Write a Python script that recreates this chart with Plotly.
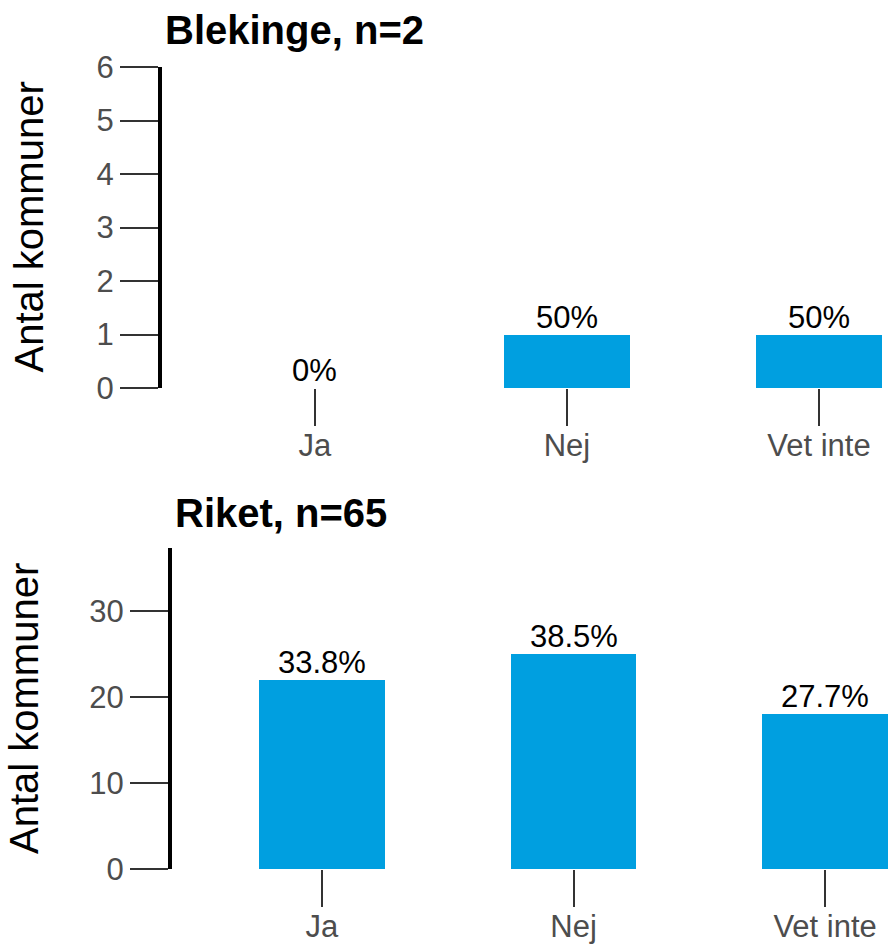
import plotly.graph_objects as go

categories = ["Ja", "Nej", "Vet inte"]
blekinge_counts = [0, 1, 1]
blekinge_labels = ["0%", "50%", "50%"]
riket_counts = [22, 25, 18]
riket_labels = ["33.8%", "38.5%", "27.7%"]
titles = ["Blekinge, n=2", "Riket, n=65"]
y_title = "Antal kommuner"
blekinge_yticks = [0, 1, 2, 3, 4, 5, 6]
riket_yticks = [0, 10, 20, 30]

W, H = 889, 944
BAR = "#009FE0"
FONT = "Liberation Sans, Arial, sans-serif"
TICKCOL = "#4D4D4D"

fig = go.Figure()

def fx(x):
    return x / W

def fy(y):
    return 1 - y / H

panels = [
    dict(counts=blekinge_counts, labels=blekinge_labels, xa="x", ya="y",
         top=67, bottom=388, left=162, xr=[-0.607, 2.278], yr=[0, 6], ticks=blekinge_yticks,
         title=titles[0], title_x=163, title_y=30, ytitle_x=28),
    dict(counts=riket_counts, labels=riket_labels, xa="x2", ya="y2",
         top=548, bottom=869, left=172, xr=[-0.596, 2.254], yr=[0, 37.3], ticks=riket_yticks,
         title=titles[1], title_x=173, title_y=513, ytitle_x=23.5),
]

annotations = []
for i, p in enumerate(panels):
    fig.add_trace(go.Bar(x=categories, y=p["counts"], width=0.5, marker=dict(color=BAR, line=dict(width=0)),
                         xaxis=p["xa"], yaxis=p["ya"], showlegend=False, hoverinfo="skip"))
    for cat, val, lab in zip(categories, p["counts"], p["labels"]):
        annotations.append(dict(text=lab, xref=p["xa"], yref=p["ya"], x=cat, y=val,
                                xanchor="center", yanchor="bottom", showarrow=False, yshift=-2,
                                font=dict(size=31, color="black", family=FONT)))
    suffix = "" if i == 0 else "2"
    fig.layout["xaxis" + suffix] = dict(
        domain=[fx(p["left"]), 1], range=p["xr"], anchor=p["ya"], showgrid=False, zeroline=False,
        showline=False, ticks="outside", ticklen=37, tickwidth=1.5, tickcolor="#333333",
        ticklabelstandoff=-7,
        tickfont=dict(size=31, color=TICKCOL, family=FONT), type="category", automargin=False)
    fig.layout["yaxis" + suffix] = dict(
        domain=[fy(p["bottom"]), fy(p["top"])], range=p["yr"], anchor=p["xa"], showgrid=False,
        zeroline=False, showline=True, linecolor="black", linewidth=4, ticks="outside", ticklen=38,
        tickwidth=1.5, tickcolor="#333333", tickvals=p["ticks"], automargin=False,
        tickfont=dict(size=31, color=TICKCOL, family=FONT))
    annotations.append(dict(text="<b>" + p["title"] + "</b>", xref="paper", yref="paper",
                            x=fx(p["title_x"]), y=fy(p["title_y"]), xanchor="left", yanchor="middle",
                            showarrow=False, font=dict(size=40, color="black", family=FONT)))
    annotations.append(dict(text=y_title, xref="paper", yref="paper", textangle=-90,
                            x=fx(p["ytitle_x"]), y=fy((p["top"] + p["bottom"]) / 2),
                            xanchor="center", yanchor="middle", showarrow=False,
                            font=dict(size=40, color="black", family=FONT)))

fig.update_layout(width=W, height=H, margin=dict(l=0, r=0, t=0, b=0, autoexpand=False), plot_bgcolor="white",
                  paper_bgcolor="white", annotations=annotations, bargap=0)

fig.write_html("out.html", config={"displayModeBar": False},
               post_script="document.body.style.margin='0';")
